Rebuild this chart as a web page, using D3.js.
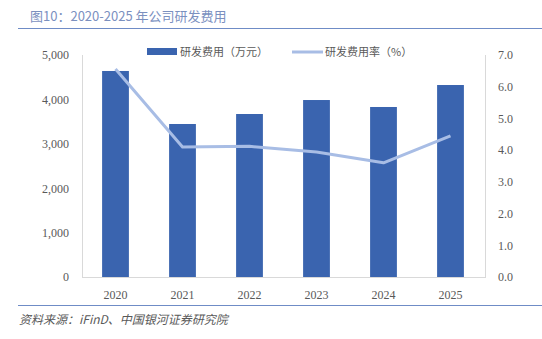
<html>
<head>
<meta charset="utf-8">
<script src="https://d3js.org/d3.v7.min.js"></script>
<style>
body { margin: 0; background: #fff; }
text { font-family: "Liberation Serif", "Noto Sans CJK SC", serif; }
.cjk { font-family: "Noto Sans CJK SC", sans-serif; }
</style>
</head>
<body>
<div id="chart"></div>
<script>
var width = 542, height = 339;

var years = ["2020", "2021", "2022", "2023", "2024", "2025"];
var rdExpense = [4640, 3446, 3671, 3986, 3829, 4324];
var rdRatio = [6.56, 4.10, 4.12, 3.94, 3.60, 4.45];
var leftTicks = [0, 1000, 2000, 3000, 4000, 5000];
var rightTicks = [0, 1, 2, 3, 4, 5, 6, 7];

var barColor = "#3A64AF", lineColor = "#A8BDE5", gridColor = "#D9D9D9", labelColor = "#595959";

var svg = d3.select("#chart").append("svg")
  .attr("width", width).attr("height", height);

// title and frame lines
svg.append("text").attr("class", "cjk")
  .attr("x", 30).attr("y", 21)
  .style("font-size", "13px").style("fill", "#7B90BF")
  .text("图10：2020-2025 年公司研发费用");
svg.append("line").attr("x1", 18).attr("x2", 542).attr("y1", 28.5).attr("y2", 28.5)
  .style("stroke", "#6F8CC6").style("stroke-width", 1.2);
svg.append("line").attr("x1", 18).attr("x2", 542).attr("y1", 305.5).attr("y2", 305.5)
  .style("stroke", "#6F8CC6").style("stroke-width", 1.2);
svg.append("text").attr("class", "cjk")
  .attr("x", 19).attr("y", 324)
  .style("font-size", "12px").style("fill", "#595959").style("font-style", "italic")
  .text("资料来源：iFinD、中国银河证券研究院");

var x = d3.scaleBand().domain(years).range([82, 484]).paddingInner(0.6).paddingOuter(0.3);
var yL = d3.scaleLinear().domain([0, 5000]).range([277, 55]);
var yR = d3.scaleLinear().domain([0, 7]).range([277, 55]);

// plot frame
svg.append("line").attr("x1", 82.5).attr("x2", 82.5).attr("y1", 55).attr("y2", 277)
  .style("stroke", gridColor);
svg.append("line").attr("x1", 485.5).attr("x2", 485.5).attr("y1", 55).attr("y2", 277)
  .style("stroke", gridColor);
svg.append("line").attr("x1", 82).attr("x2", 486).attr("y1", 277.5).attr("y2", 277.5)
  .style("stroke", gridColor);

function styleTicks(g) {
  g.select(".domain").remove();
  g.selectAll("text")
    .style("font-family", "'Liberation Serif', serif")
    .style("font-size", "12px").style("fill", labelColor);
}

var yAxisL = d3.axisLeft(yL).tickValues(leftTicks).tickSize(0).tickPadding(13)
  .tickFormat(d3.format(","));
svg.append("g").attr("transform", "translate(82,0)").call(yAxisL).call(styleTicks);

var yAxisR = d3.axisRight(yR).tickValues(rightTicks).tickSize(0).tickPadding(12)
  .tickFormat(d3.format(".1f"));
svg.append("g").attr("transform", "translate(486,0)").call(yAxisR).call(styleTicks);

var xAxis = d3.axisBottom(x).tickSize(0).tickPadding(13);
svg.append("g").attr("transform", "translate(0,277)").call(xAxis).call(styleTicks);

// bars
svg.append("g").selectAll("rect").data(years).enter().append("rect")
  .attr("x", function (d) { return x(d); })
  .attr("width", x.bandwidth())
  .attr("y", function (d, i) { return yL(rdExpense[i]); })
  .attr("height", function (d, i) { return 277 - yL(rdExpense[i]); })
  .style("fill", barColor);

// ratio line
var line = d3.line()
  .x(function (d, i) { return x(years[i]) + x.bandwidth() / 2; })
  .y(function (d) { return yR(d); });
svg.append("path").datum(rdRatio).attr("d", line)
  .style("fill", "none").style("stroke", lineColor).style("stroke-width", 3)
  .style("stroke-linejoin", "round");

// legend
var lg = svg.append("g");
lg.append("rect").attr("x", 147).attr("y", 48).attr("width", 30).attr("height", 7).style("fill", barColor);
lg.append("text").attr("class", "cjk").attr("x", 180).attr("y", 56)
  .style("font-size", "11px").style("fill", labelColor).text("研发费用（万元）");
lg.append("line").attr("x1", 292).attr("x2", 323).attr("y1", 52).attr("y2", 52)
  .style("stroke", lineColor).style("stroke-width", 3);
lg.append("text").attr("class", "cjk").attr("x", 325).attr("y", 56)
  .style("font-size", "11px").style("fill", labelColor).text("研发费用率（%）");
</script>
</body>
</html>
